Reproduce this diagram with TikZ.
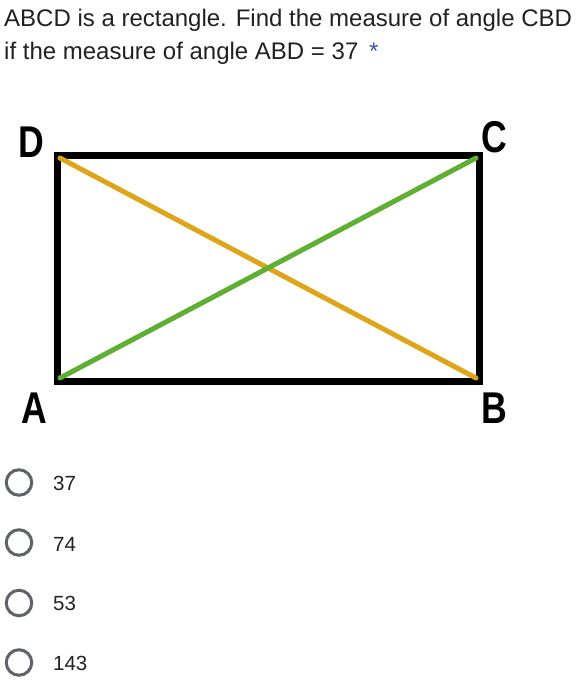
\documentclass[tikz,border=0pt]{standalone}
\usepackage{fontspec}
\setmainfont{Liberation Sans}
\definecolor{diagorange}{RGB}{222,165,25}
\definecolor{diaggreen}{RGB}{95,175,50}
\definecolor{radiogray}{RGB}{95,99,104}
\definecolor{starblue}{RGB}{63,81,181}
\definecolor{qtext}{RGB}{32,33,36}
\newcommand{\vlab}[1]{\scalebox{0.8}[1]{#1}}
\begin{document}
\begin{tikzpicture}[x=1pt,y=-1pt,
  qline/.style={anchor=base west,inner sep=0pt,font=\fontsize{24}{28}\selectfont,text=qtext},
  vlabel/.style={inner sep=0pt,font=\bfseries\fontsize{44.5}{48}\selectfont},
  side/.style={line width=7pt,line join=miter},
  diag/.style={line width=5pt,line cap=round},
  radio/.style={circle,draw=radiogray,line width=3pt,minimum size=25.5pt,inner sep=0pt},
  opt/.style={anchor=base west,inner sep=0pt,font=\fontsize{20.5}{23}\selectfont,text=qtext}]
\useasboundingbox (0,0) rectangle (580,682);
\node[qline] (q1) at (4,27) {ABCD is a rectangle. Find the measure of angle CBD};
\node[qline] (q2) at (4,60) {if the measure of angle ABD = 37 \,{\color{starblue}*}};
\coordinate (A) at (57,381);
\coordinate (B) at (479,381);
\coordinate (C) at (479,155);
\coordinate (D) at (57,155);
\draw[side] (A) -- (B) -- (C) -- (D) -- cycle;
\draw[diag,diagorange] ([shift={(3,3)}]D) -- ([shift={(-3,-3)}]B);
\draw[diag,diaggreen] ([shift={(3,-3)}]A) -- ([shift={(-3,3)}]C);
\node[vlabel,anchor=base] (lD) at (31,157) {\vlab{D}};
\node[vlabel,anchor=base] (lC) at (494,152) {\vlab{C}};
\node[vlabel,anchor=base] (lA) at (34,423) {\vlab{A}};
\node[vlabel,anchor=base] (lB) at (494,423) {\vlab{B}};
\node[radio] (r1) at (19,482.5) {};
\node[radio] (r2) at (19,542.5) {};
\node[radio] (r3) at (19,603) {};
\node[radio] (r4) at (19,662.5) {};
\node[opt] (o1) at (53,490) {37};
\node[opt] (o2) at (53,551) {74};
\node[opt] (o3) at (53,610) {53};
\node[opt] (o4) at (53,670) {143};
\end{tikzpicture}
\end{document}
